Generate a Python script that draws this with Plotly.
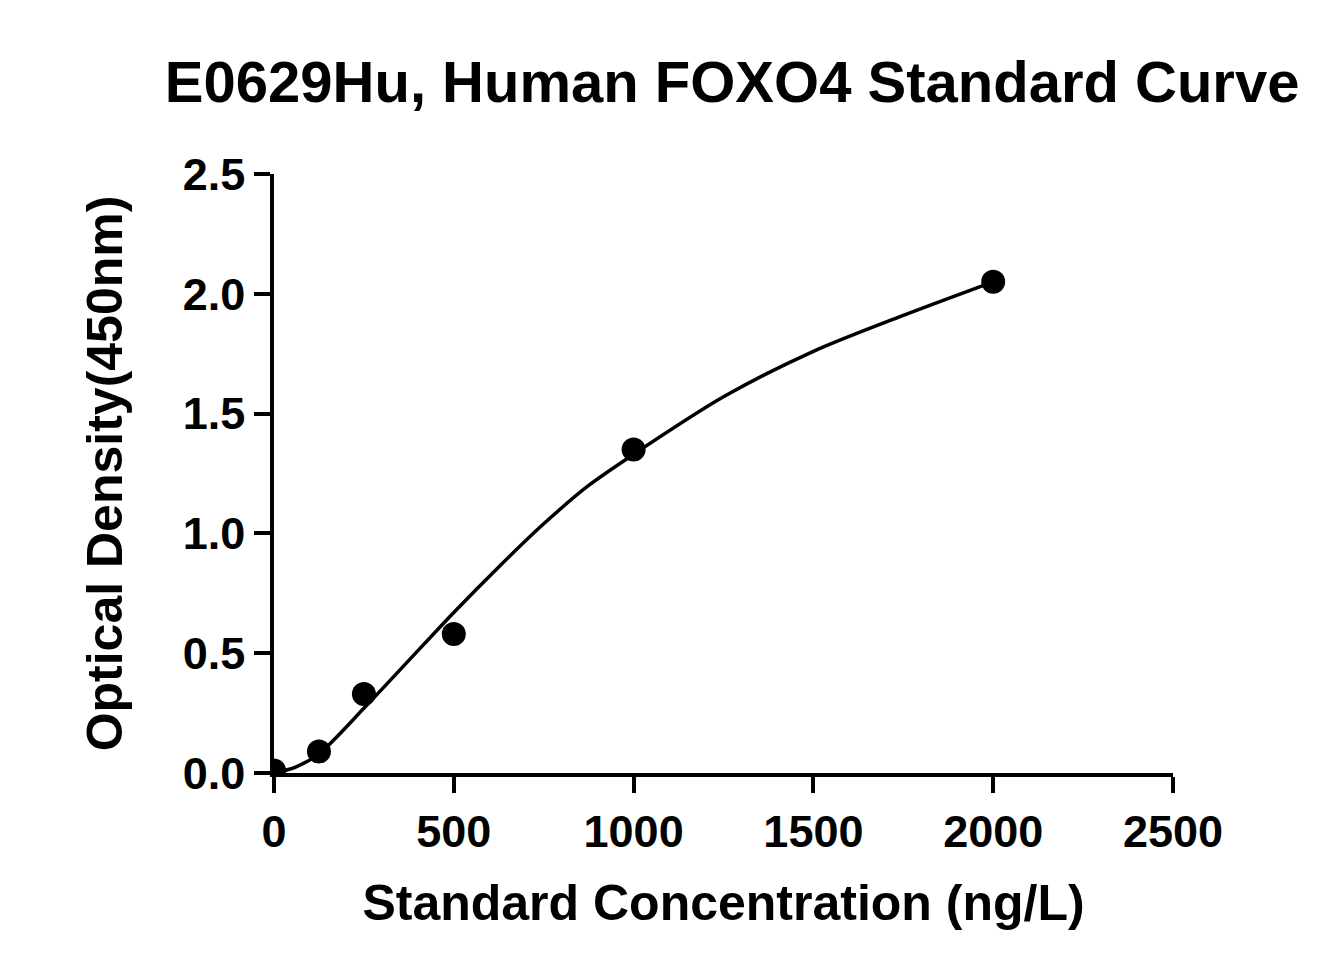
import plotly.graph_objects as go

conc = [0, 125, 250, 500, 1000, 2000]
od = [0.01, 0.09, 0.33, 0.58, 1.35, 2.05]
curve_x = [0, 60, 125, 250, 375, 500, 625, 750, 875, 1000, 1250, 1500, 1750, 2000]
curve_y = [0.0, 0.025, 0.08, 0.27, 0.47, 0.67, 0.86, 1.04, 1.20, 1.33, 1.57, 1.76, 1.91, 2.05]
xticks = [0, 500, 1000, 1500, 2000, 2500]
yticks = [0.0, 0.5, 1.0, 1.5, 2.0, 2.5]

F = "Liberation Sans, Arial, sans-serif"
fig = go.Figure()
fig.add_trace(go.Scatter(x=curve_x, y=curve_y, mode="lines", line=dict(color="black", width=3.5, shape="spline", smoothing=0.8), hoverinfo="skip"))
fig.add_trace(go.Scatter(x=conc, y=od, mode="markers", marker=dict(color="black", size=24)))
axis = dict(showgrid=False, zeroline=False, showline=True, linecolor="black", linewidth=3.5,
            ticks="outside", ticklen=16, tickwidth=3.5, tickcolor="black",
            tickfont=dict(family=F, size=45, color="black"))
fig.update_layout(
    width=1341, height=975, plot_bgcolor="white", paper_bgcolor="white", showlegend=False,
    margin=dict(l=266, r=176, t=166, b=210),
    title=dict(text="<b>E0629Hu, Human FOXO4 Standard Curve</b>", x=0.54, xanchor="center", y=0.945,
               font=dict(family=F, size=58, color="black")),
    xaxis=dict(axis, range=[0, 2500], tickvals=xticks, ticktext=[f"<b>{v}</b>" for v in xticks],
               title=dict(text="<b>Standard Concentration (ng/L)</b>", font=dict(family=F, size=50, color="black"), standoff=30)),
    yaxis=dict(axis, range=[0, 2.5], tickvals=yticks, ticktext=[f"<b>{v:.1f}</b>" for v in yticks],
               title=dict(text="<b>Optical Density(450nm)</b>", font=dict(family=F, size=50, color="black"), standoff=45)),
)
fig.write_html("out.html")
